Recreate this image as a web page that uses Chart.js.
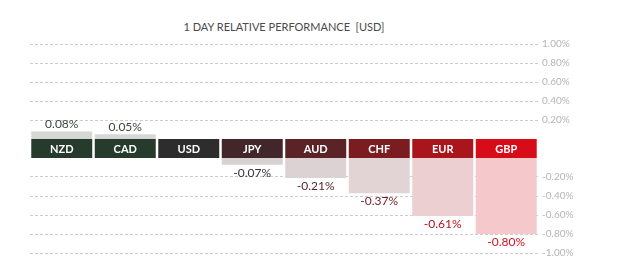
<!DOCTYPE html>
<html>
<head>
<meta charset="utf-8">
<script src="https://cdn.jsdelivr.net/npm/chart.js@4"></script>
<style>
  html, body { margin: 0; padding: 0; background: #fff; }
  #wrap { position: relative; width: 625px; height: 277px; overflow: hidden; }
  #title { position: absolute; left: 30px; width: 508px; top: 20px; text-align: center;
           font: 11px Lato, sans-serif; color: #4a4a4a; white-space: pre; }
  #top { position: absolute; left: 0; top: 0; width: 625px; height: 158px; }
  #bottom { position: absolute; left: 0; top: 148px; width: 625px; height: 129px; }
</style>
</head>
<body>
<div id="wrap">
  <div id="title">1 DAY RELATIVE PERFORMANCE  [USD]</div>
  <div id="bottom"><canvas id="bottomCanvas"></canvas></div>
  <div id="top"><canvas id="topCanvas"></canvas></div>
</div>
<script>
// 1 day relative performance vs USD
const currencies = ['NZD', 'CAD', 'USD', 'JPY', 'AUD', 'CHF', 'EUR', 'GBP'];
const changes = [0.08, 0.05, 0, -0.07, -0.21, -0.37, -0.61, -0.80];
const topTicks = [0.2, 0.4, 0.6, 0.8, 1.0];
const bottomTicks = [-0.2, -0.4, -0.6, -0.8, -1.0];

const bandColors = ['#263b2c', '#263b2c', '#2d2d2d', '#42262a', '#5b2326', '#7b1c20', '#a9151b', '#d80c18'];
const barColors = ['#d5d8d4', '#d5d8d4', '#d6d6d6', '#d6d2d2', '#dcd2d3', '#e2d3d5', '#ebcfd1', '#f5c8cb'];
const labelColors = ['#3c4a40', '#3c4a40', '#333333', '#333333', '#5a1f24', '#7a1c1f', '#b5121b', '#d9101c'];

// value labels above / below the bar ends
const valueLabels = {
  id: 'valueLabels',
  afterDatasetsDraw(chart) {
    const ctx = chart.ctx;
    const side = chart.options.plugins.valueLabels.side;
    const meta = chart.getDatasetMeta(0);
    ctx.save();
    ctx.font = '12px Lato, sans-serif';
    ctx.textAlign = 'center';
    meta.data.forEach((bar, i) => {
      const v = changes[i];
      if (side === 'up' && v > 0) {
        ctx.fillStyle = labelColors[i];
        ctx.textBaseline = 'bottom';
        ctx.fillText(v.toFixed(2) + '%', bar.x, bar.y - 1);
      } else if (side === 'down' && v < 0) {
        ctx.fillStyle = labelColors[i];
        ctx.textBaseline = 'top';
        ctx.fillText(v.toFixed(2) + '%', bar.x, bar.y + 2);
      }
    });
    ctx.restore();
  }
};

// currency band between the two halves
const currencyBand = {
  id: 'currencyBand',
  afterDraw(chart) {
    if (!chart.options.plugins.currencyBand.show) return;
    const ctx = chart.ctx;
    const meta = chart.getDatasetMeta(0);
    const y0 = chart.chartArea.bottom;
    ctx.save();
    ctx.font = 'bold 11px Lato, sans-serif';
    ctx.textAlign = 'center';
    ctx.textBaseline = 'middle';
    meta.data.forEach((bar, i) => {
      ctx.fillStyle = bandColors[i];
      ctx.fillRect(bar.x - bar.width / 2, y0, bar.width, 19);
      ctx.fillStyle = '#ffffff';
      ctx.fillText(currencies[i], bar.x, y0 + 10);
    });
    ctx.restore();
  }
};

function makeChart(id, min, max, ticks, side, padding) {
  return new Chart(document.getElementById(id).getContext('2d'), {
    type: 'bar',
    data: {
      labels: currencies,
      datasets: [{
        data: changes,
        backgroundColor: barColors,
        borderWidth: 0,
        barPercentage: 0.96,
        categoryPercentage: 1
      }]
    },
    options: {
      responsive: true,
      maintainAspectRatio: false,
      animation: false,
      layout: { padding: padding },
      plugins: {
        legend: { display: false },
        tooltip: { enabled: false },
        valueLabels: { side: side },
        currencyBand: { show: side === 'up' }
      },
      scales: {
        x: { display: false },
        y: {
          position: 'right',
          min: min,
          max: max,
          afterBuildTicks(scale) {
            scale.ticks = ticks.map(v => ({ value: v }));
          },
          afterFit(scale) { scale.width = 87; },
          border: { display: false, dash: [3, 2] },
          grid: { color: '#cccccc', lineWidth: 1, drawTicks: false },
          ticks: {
            color: '#b5b5b5',
            padding: 4,
            font: { family: 'Lato', size: 10 },
            callback: v => v.toFixed(2) + '%'
          }
        }
      }
    },
    plugins: [valueLabels, currencyBand]
  });
}

makeChart('topCanvas', 0, 1, topTicks, 'up', { left: 30, right: 0, top: 44, bottom: 19 });
makeChart('bottomCanvas', -1, 0, bottomTicks, 'down', { left: 30, right: 0, top: 0, bottom: 24 });
</script>
</body>
</html>
